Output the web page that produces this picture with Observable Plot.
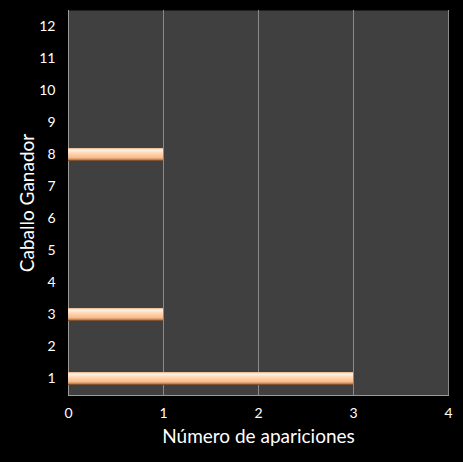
<!DOCTYPE html>
<html><head><meta charset="utf-8">
<script src="https://cdn.jsdelivr.net/npm/d3@7"></script>
<script src="https://cdn.jsdelivr.net/npm/@observablehq/plot@0.6"></script>
<style>
html,body{margin:0;padding:0;background:#000;}
</style></head>
<body><div id="chart"></div>
<script>
const categories = ["1","2","3","4","5","6","7","8","9","10","11","12"];
const counts = [3,0,1,0,0,0,0,1,0,0,0,0];
const xTicks = [0,1,2,3,4];
const xLabel = "Número de apariciones";
const yLabel = "Caballo Ganador";

const data = categories.map((c,i)=>({cat:c, n:counts[i]}));

const chart = Plot.plot({
  width: 463, height: 462,
  marginLeft: 68, marginRight: 15, marginTop: 10, marginBottom: 67,
  style: {background:"#000", color:"#fff", fontFamily:"Lato, 'Open Sans', sans-serif"},
  x: {domain:[0,4], ticks:xTicks},
  y: {type:"band", domain: categories.slice().reverse(), paddingInner:0.6, paddingOuter:0.3},
  marks: [
    Plot.frame({fill:"#404040", stroke:null}),
    Plot.ruleX(xTicks.slice(1), {stroke:"#8a8a8a", strokeWidth:1}),
    Plot.ruleX([0], {stroke:"#9a9a9a", strokeWidth:1}),
    Plot.frame({anchor:"bottom", stroke:"#9a9a9a", strokeWidth:1}),
    Plot.barX(data.filter(d=>d.n>0), {x:"n", y:"cat", fill:"url(#bargrad)"}),
    Plot.axisX({ticks:xTicks, tickFormat:"d", tickSize:0, tickPadding:13, fontSize:14, fill:"#fff", label:null}),
    Plot.axisY({tickSize:0, tickPadding:13, fontSize:14, fill:"#fff", label:null}),
    Plot.text([xLabel], {frameAnchor:"bottom", dy:47, fontSize:19, fill:"#fff"}),
    Plot.text([yLabel], {frameAnchor:"left", dx:-41, rotate:-90, textAnchor:"middle", fontSize:19, fill:"#fff"})
  ]
});

const svg = d3.select(chart);
const defs = svg.insert("defs", ":first-child");
const g = defs.append("linearGradient").attr("id","bargrad").attr("x1",0).attr("y1",0).attr("x2",0).attr("y2",1);
[["0%","#e8b48a"],["15%","#fff2e4"],["45%","#fdd3ae"],["75%","#f9bb88"],["88%","#c98a5c"],["100%","#5a3a22"]]
  .forEach(([o,c])=>g.append("stop").attr("offset",o).attr("stop-color",c));

document.getElementById("chart").appendChild(chart);
</script></body></html>
